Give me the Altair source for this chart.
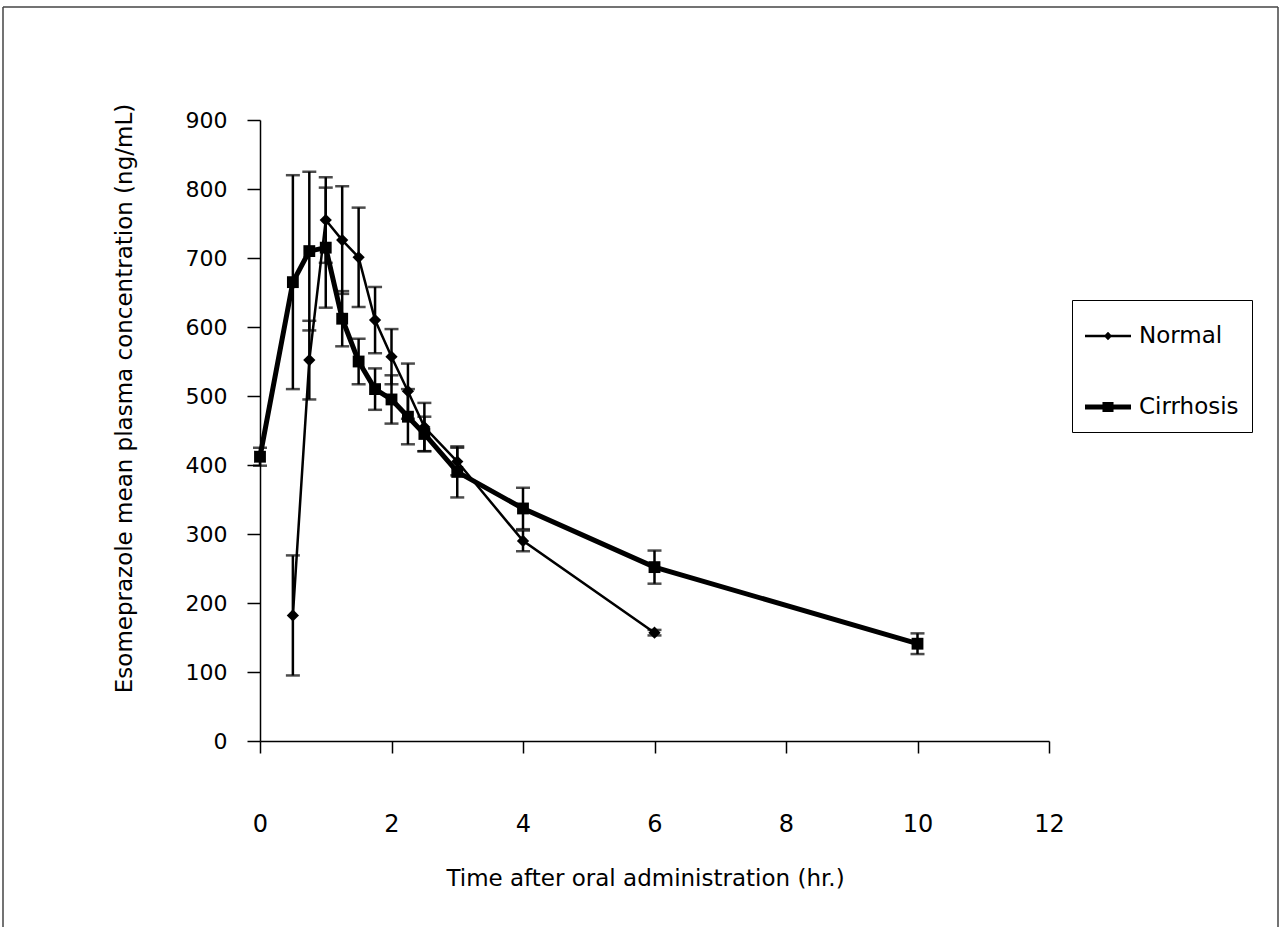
import altair as alt
import pandas as pd

# ---- data ----
series_names = ["Normal", "Cirrhosis"]

time_normal = [0.5, 0.75, 1, 1.25, 1.5, 1.75, 2, 2.25, 2.5, 3, 4, 6]
mean_normal = [182, 552, 755, 726, 701, 610, 557, 507, 455, 405, 290, 157]
sd_normal = [87, 57, 62, 78, 72, 48, 40, 40, 35, 20, 15, 4]

time_cirr = [0, 0.5, 0.75, 1, 1.25, 1.5, 1.75, 2, 2.25, 2.5, 3, 4, 6, 10]
mean_cirr = [412, 665, 710, 715, 612, 550, 510, 495, 470, 445, 390, 337, 252, 141]
sd_cirr = [13, 155, 115, 87, 40, 33, 30, 35, 40, 25, 37, 30, 24, 15]

x_ticks = [0, 2, 4, 6, 8, 10, 12]
y_ticks = [0, 100, 200, 300, 400, 500, 600, 700, 800, 900]

rows = []
for t, m, s in zip(time_normal, mean_normal, sd_normal):
    rows.append({"series": "Normal", "time": t, "mean": m, "lo": m - s, "hi": m + s})
for t, m, s in zip(time_cirr, mean_cirr, sd_cirr):
    rows.append({"series": "Cirrhosis", "time": t, "mean": m, "lo": m - s, "hi": m + s})
df = pd.DataFrame(rows)

FONT = "DejaVu Sans"

xscale = alt.Scale(domain=[0, 12], nice=False, zero=False)
yscale = alt.Scale(domain=[0, 900], nice=False)
xaxis = alt.Axis(
    values=x_ticks, title="Time after oral administration (hr.)", grid=False,
    tickSize=12, labelPadding=59, labelFontSize=24, labelFont=FONT, labelFlush=False,
    titleFont=FONT, titleFontSize=23, titleFontWeight="normal",
    titleX=385, titleY=137, titleBaseline="middle", titleAlign="center",
)
yaxis = alt.Axis(
    values=y_ticks, title="Esomeprazole mean plasma concentration (ng/mL)", grid=False,
    tickSize=13, labelPadding=20, labelFontSize=22, labelFont=FONT, labelFlush=False,
    titleFont=FONT, titleFontSize=23, titleFontWeight="normal",
    titleX=-136, titleY=278, titleBaseline="middle", titleAlign="center", titleAngle=270,
)

X = alt.X("time:Q", scale=xscale, axis=xaxis)
Y = alt.Y("mean:Q", scale=yscale, axis=yaxis)

base = alt.Chart(df)

err_rule = base.mark_rule(color="black", strokeWidth=2.5).encode(
    x=X, y=alt.Y("lo:Q", scale=yscale, axis=yaxis), y2="hi:Q"
)
cap_lo = base.mark_tick(orient="horizontal", color="black", thickness=2.5, size=14).encode(
    x=X, y=alt.Y("lo:Q", scale=yscale, axis=yaxis)
)
cap_hi = base.mark_tick(orient="horizontal", color="black", thickness=2.5, size=14).encode(
    x=X, y=alt.Y("hi:Q", scale=yscale, axis=yaxis)
)

normal = base.transform_filter(alt.datum.series == "Normal")
cirr = base.transform_filter(alt.datum.series == "Cirrhosis")

line_normal = normal.mark_line(color="black", strokeWidth=2.5).encode(x=X, y=Y)
line_cirr = cirr.mark_line(color="black", strokeWidth=5).encode(x=X, y=Y)
pts_normal = normal.mark_point(filled=True, color="black", size=150, shape="diamond", opacity=1).encode(x=X, y=Y)
pts_cirr = cirr.mark_point(filled=True, color="black", size=140, shape="square", opacity=1).encode(x=X, y=Y)

path_n = "M-1,-0.055H1V0.055H-1Z M-0.18,0L0,-0.19L0.18,0L0,0.19Z"
path_c = "M-1,-0.11H1V0.11H-1Z M-0.24,-0.22H0.24V0.22H-0.24Z"

legend_layer = base.mark_point(filled=True, color="black", size=2116, opacity=0).encode(
    x=X, y=Y,
    shape=alt.Shape(
        "series:N",
        scale=alt.Scale(domain=series_names, range=[path_n, path_c]),
        legend=alt.Legend(
            title=None, orient="none", legendX=812, legendY=180,
            strokeColor="black", fillColor="white", padding=13,
            labelFont=FONT, labelFontSize=23, labelColor="black", labelOffset=8,
            rowPadding=36, symbolSize=2116, symbolFillColor="black",
            symbolStrokeColor="black", symbolStrokeWidth=0, symbolOpacity=1,
        ),
    ),
)

frame = alt.Chart(pd.DataFrame({"k": [0]})).mark_rule(color="#444", strokeWidth=1.5)
frame_top = frame.encode(x=alt.value(-257), x2=alt.value(1018), y=alt.value(-113))
frame_left = frame.encode(x=alt.value(-257), y=alt.value(-113), y2=alt.value(807))
frame_right = frame.encode(x=alt.value(1018), y=alt.value(-113), y2=alt.value(807))

chart = alt.layer(
    frame_top, frame_left, frame_right,
    err_rule, cap_lo, cap_hi, line_normal, line_cirr, pts_normal, pts_cirr, legend_layer,
).properties(
    width=789, height=621,
    padding={"left": 260, "top": 120, "right": 232, "bottom": 186},
    autosize=alt.AutoSizeParams(type="none"),
    background="white",
).configure_view(stroke=None).configure_axis(
    domainColor="black", domainWidth=1.5, tickColor="black", tickWidth=1.5,
    labelColor="black", titleColor="black",
)

chart.save("out.html", embed_options={"renderer": "svg", "actions": False})
